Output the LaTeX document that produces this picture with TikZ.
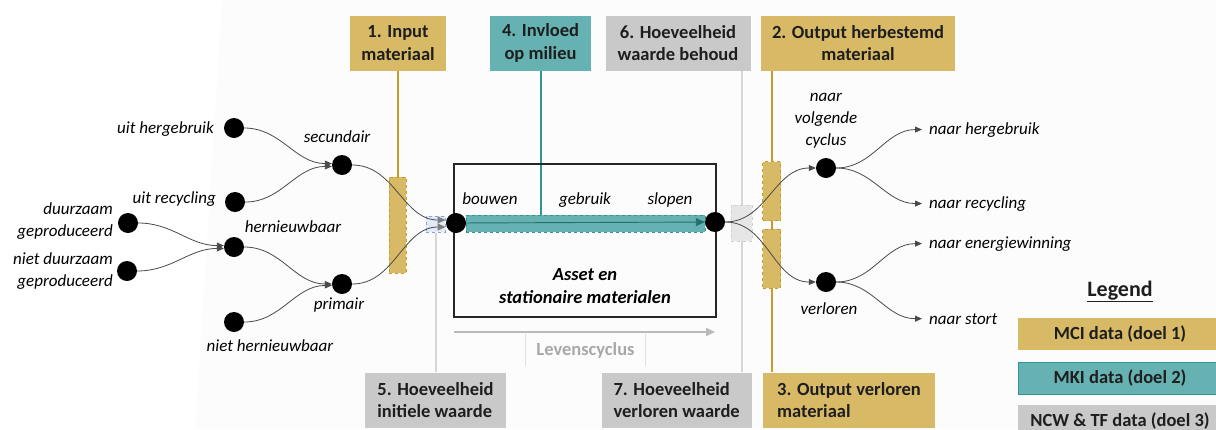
\documentclass[tikz,border=0pt]{standalone}
\usepackage{fontspec}
\setmainfont{Carlito}
\usetikzlibrary{arrows.meta,backgrounds,calc}

\definecolor{mcigold}{HTML}{D8BA66}
\definecolor{goldline}{HTML}{C99C2A}
\definecolor{mkiteal}{HTML}{66B2B2}
\definecolor{tealline}{HTML}{2E9696}
\definecolor{tealdark}{HTML}{23706F}
\definecolor{ncwgray}{HTML}{C9C9C9}
\definecolor{grayline}{HTML}{D6D6D6}
\definecolor{txt}{HTML}{1E1E1E}
\definecolor{flowgray}{HTML}{4A4A4A}
\definecolor{tipgray}{HTML}{7E7E7E}
\definecolor{bluefill}{HTML}{E2EAF8}
\definecolor{blueline}{HTML}{7FA4E2}
\definecolor{lightfill}{HTML}{E6E6E6}
\definecolor{lightline}{HTML}{D0D0D0}
\definecolor{tint}{HTML}{FCFCFC}
\definecolor{cycgray}{HTML}{A8A8A8}

\tikzset{
  tagbox/.style={minimum height=55pt, align=center, text=txt,
    font=\fontsize{18.5}{22.5}\selectfont\bfseries},
  mcibox/.style={tagbox, fill=mcigold},
  mkibox/.style={tagbox, fill=mkiteal},
  ncwbox/.style={tagbox, fill=ncwgray},
  blob/.style={circle, fill=black, minimum size=20pt},
  lbl/.style={font=\fontsize{17}{22}\selectfont\itshape, text=black, align=center},
  flow/.style={draw=flowgray, line width=0.8pt, -{Triangle[length=7pt,width=6pt]}},
  flowin/.style={draw=flowgray, line width=0.8pt, -{Triangle[length=8pt,width=7pt,color=tipgray]}},
  goldbar/.style={fill=mcigold, draw=goldline, dashed, line width=1pt},
  goldln/.style={draw=goldline, line width=1.8pt},
  grayln/.style={draw=grayline, line width=2pt},
  tealln/.style={draw=tealline, line width=2pt},
  legbox/.style={minimum width=204pt, minimum height=32pt, text=txt,
    font=\fontsize{18.5}{22.5}\selectfont\bfseries},
}

\begin{document}
\begin{tikzpicture}[x=1pt, y=-1pt, every node/.style={inner sep=0pt}]
\useasboundingbox (0,0) rectangle (1216,429);

% tag boxes along the top and bottom
\node[mcibox, minimum width=96pt]  (b1) at (398,43)   {1. Input\\materiaal};
\node[mkibox, minimum width=101pt] (b4) at (540.5,43) {4. Invloed\\op milieu};
\node[ncwbox, minimum width=145pt] (b6) at (678,43)   {6. Hoeveelheid\\waarde behoud};
\node[mcibox, minimum width=194pt] (b2) at (858,43)   {2. Output herbestemd\\materiaal};
\node[ncwbox, minimum width=141pt, align=left] (b5) at (435.5,400) {5. Hoeveelheid\\initiele waarde};
\node[ncwbox, minimum width=150pt, align=left] (b7) at (676.7,400) {7. Hoeveelheid\\verloren waarde};
\node[mcibox, minimum width=172pt, align=left] (b3) at (849,400)   {3. Output verloren\\materiaal};

% asset block
\node[draw=black!85, line width=1.3pt, minimum width=262pt, minimum height=153pt] (asset) at (585,240.5) {};
\node[fill=mkiteal, draw=tealline, dashed, line width=1pt, minimum width=239pt, minimum height=17pt] (bar) at (585.5,223.5) {};
\node[lbl, anchor=base] (tB) at (490,204) {bouwen};
\node[lbl, anchor=base] (tG) at (585,204) {gebruik};
\node[lbl, anchor=base] (tS) at (670,204) {slopen};
\node[lbl, font=\fontsize{18.5}{23}\selectfont\bfseries\itshape, anchor=base] (tA) at (585,303) {Asset en\\stationaire materialen};

% marker boxes on the flow
\node[goldbar, minimum width=17pt, minimum height=96pt] (gL) at (397.5,225) {};
\node[fill=bluefill, draw=blueline, dashed, line width=1pt, minimum width=19pt, minimum height=16pt] (bR) at (435.5,224) {};
\node[fill=lightfill, draw=lightline, dashed, line width=1pt, minimum width=21pt, minimum height=36pt] (gR) at (741.5,223) {};
\node[goldbar, minimum width=18pt, minimum height=59pt] (gU) at (771.8,191.3) {};
\node[goldbar, minimum width=18pt, minimum height=59pt] (gD) at (771.8,258.5) {};

% flow points
\node[blob] (uh)  at (234,128) {};
\node[blob] (ur)  at (235,202) {};
\node[blob] (dz)  at (128,223) {};
\node[blob] (ndz) at (127,271) {};
\node[blob] (hw)  at (234,247) {};
\node[blob] (nhw) at (234,322) {};
\node[blob] (sec) at (342,165) {};
\node[blob] (pri) at (342,284) {};
\node[blob] (s0)  at (456,223) {};
\node[blob] (s1)  at (715,222) {};
\node[blob] (nvc) at (826,168) {};
\node[blob] (vl)  at (826,282) {};

% flow labels
\node[lbl, anchor=base east] at (214,133) {uit hergebruik};
\node[lbl, anchor=base east] at (216,203) {uit recycling};
\node[lbl, anchor=base east, align=right] at (113,236) {duurzaam\\geproduceerd};
\node[lbl, anchor=base east, align=right] at (113,286) {niet duurzaam\\geproduceerd};
\node[lbl, anchor=base] at (337,142) {secundair};
\node[lbl, anchor=base] at (293,232) {hernieuwbaar};
\node[lbl, anchor=base] at (339,309) {primair};
\node[lbl, anchor=base] at (270,351) {niet hernieuwbaar};
\node[lbl, anchor=base] at (826,145) {naar\\volgende\\cyclus};
\node[lbl, anchor=base] at (829,314) {verloren};
\node[lbl, anchor=base west, inner xsep=7pt] (oHer) at (922,134) {naar hergebruik};
\node[lbl, anchor=base west, inner xsep=7pt] (oRec) at (922,208) {naar recycling};
\node[lbl, anchor=base west, inner xsep=7pt] (oEn)  at (922,248) {naar energiewinning};
\node[lbl, anchor=base west, inner xsep=7pt] (oSt)  at (922,324) {naar stort};

% connectors behind the boxes
\begin{scope}[on background layer]
  \fill[tint] (222,0) -- (1216,0) -- (1216,429) -- (195,429) -- cycle;
  \draw[goldln] (b1.south) -- (b1.south |- gL.north);
  \draw[tealln] (b4.south) -- (b4.south |- bar.north);
  \draw[grayln] (bR.south) -- (bR.south |- b5.north);
  \draw[grayln] (gR.center |- b6.south) -- (gR.center |- b7.north);
  \draw[goldln] (gU.center |- b2.south) -- (gU.center |- b3.north);
\end{scope}

% material flows
\draw[flow] (uh)  to[out=0,in=180] (sec.172);
\draw[flow] (ur)  to[out=0,in=180] (sec.188);
\draw[flow] (dz)  to[out=0,in=180] (hw.172);
\draw[flow] (ndz) to[out=0,in=180] (hw.188);
\draw[flow] (hw)  to[out=0,in=180] (pri.west);
\draw[flow] (nhw) to[out=0,in=180] (pri.188);
\draw[flowin] (sec) to[out=0,in=180] ([yshift=4pt]bR.east);
\draw[flowin] (pri) to[out=0,in=180] ([yshift=-3pt]bR.east);
\draw[draw=tealdark, line width=0.9pt, -{Triangle[length=9pt,width=8pt]}] (s0) -- (s1);
\draw[flow] (s1.east) to[out=0,in=180] (nvc.west);
\draw[flow] (s1.east) to[out=0,in=180] (vl.west);
\draw[flow] (nvc) to[out=0,in=180] (oHer.west);
\draw[flow] (nvc) to[out=0,in=180] (oRec.west);
\draw[flow] (vl)  to[out=0,in=180] (oEn.west);
\draw[flow] (vl)  to[out=0,in=180] (oSt.west);

% life cycle axis
\coordinate (lcA) at (454,332);
\coordinate (lcB) at (715,332);
\draw[draw=cycgray!80, line width=2pt, -{Triangle[length=9pt,width=8pt]}] (lcA) -- (lcB);
\node[minimum width=120pt, minimum height=31pt, text=cycgray, font=\fontsize{18.5}{22.5}\selectfont\bfseries] (lc) at (585.5,350) {Levenscyclus};
\draw[draw=black!12, line width=0.8pt] (lc.north west) -- (lc.south west) (lc.north east) -- (lc.south east);

% legend
\node[text=txt, font=\fontsize{22}{26}\selectfont\bfseries, anchor=base] (lgT) at (1120,296) {\underline{Legend}};
\node[legbox, fill=mcigold] (lg1) at (1120,334) {MCI data (doel 1)};
\node[legbox, fill=mkiteal, draw=tealline, line width=1pt] (lg2) at (1120,378) {MKI data (doel 2)};
\node[legbox, fill=ncwgray] (lg3) at (1120,421) {NCW \& TF data (doel 3)};
\end{tikzpicture}
\end{document}
